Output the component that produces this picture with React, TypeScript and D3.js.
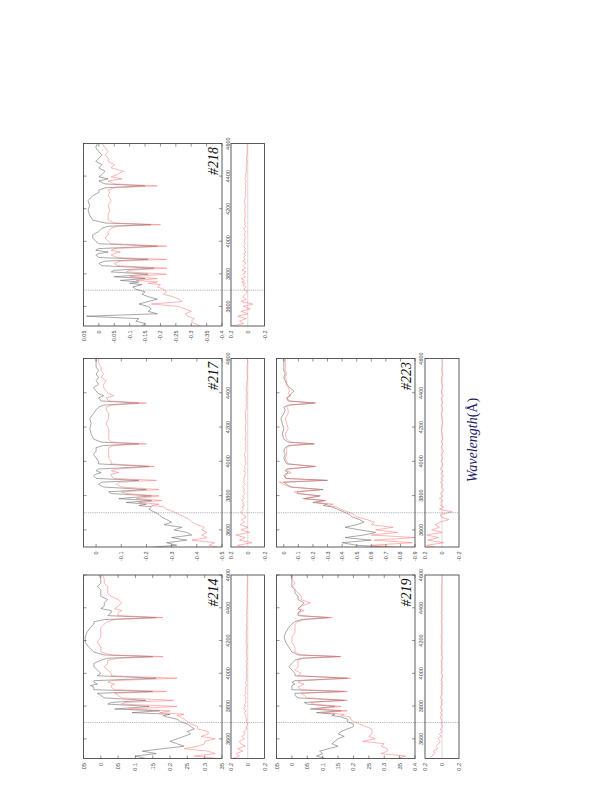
import React from 'react';
import * as d3 from 'd3';

// wavelength grid (Angstrom) shared by every spectrum
const WAVE = [
  3480, 3495, 3510, 3525, 3540, 3555, 3570, 3585, 3600, 3615,
  3630, 3645, 3660, 3675, 3690, 3705, 3720, 3734, 3742, 3750,
  3760, 3771, 3782, 3798, 3812, 3822, 3835, 3850, 3865, 3878,
  3889, 3900, 3915, 3925, 3934, 3945, 3955, 3970, 3985, 4000,
  4020, 4040, 4060, 4080, 4092, 4102, 4112, 4130, 4160, 4190,
  4220, 4250, 4280, 4300, 4315, 4328, 4340, 4352, 4370, 4383,
  4395, 4410, 4430, 4450, 4470, 4490, 4510, 4530, 4550, 4575, 4600,
];

const WAVE_TICKS = [3600, 3800, 4000, 4200, 4400, 4600];
const BALMER_EDGE = 3700;

// #218
const OBS_218 = [
  -0.14, -0.15, -0.12, -0.13, 0.04, -0.19, -0.16, -0.17, -0.16, -0.13,
  -0.16, -0.19, -0.16, -0.14, -0.15, -0.12, -0.11, -0.14, -0.10, -0.13,
  -0.07, -0.15, -0.05, -0.16, -0.04, -0.05, -0.18, -0.01, 0.0, -0.02,
  -0.16, 0.0, 0.01, 0.0, -0.03, 0.01, 0.0, -0.19, 0.0, 0.01,
  0.02, 0.02, 0.0, -0.01, -0.03, -0.17, -0.02, 0.02, 0.03, 0.035,
  0.03, 0.035, 0.02, 0.0, 0.0, -0.02, -0.15, -0.02, 0.0, -0.03,
  0.0, -0.01, -0.02, 0.0, -0.01, 0.01, 0.0, -0.01, 0.0, 0.01, 0.005,
];
const MODEL_218 = [
  -0.33, -0.31, -0.30, -0.31, -0.29, -0.28, -0.30, -0.28, -0.26, -0.17,
  -0.27, -0.26, -0.24, -0.21, -0.22, -0.21, -0.19, -0.20, -0.16, -0.19,
  -0.12, -0.19, -0.10, -0.22, -0.09, -0.10, -0.22, -0.06, -0.05, -0.07,
  -0.22, -0.06, -0.04, -0.05, -0.07, -0.04, -0.05, -0.22, -0.04, -0.03,
  -0.02, -0.03, -0.03, -0.04, -0.06, -0.20, -0.05, -0.03, -0.03, -0.035,
  -0.03, -0.04, -0.03, -0.035, -0.03, -0.05, -0.19, -0.05, -0.03, -0.075,
  -0.04, -0.06, -0.08, -0.04, -0.05, -0.03, -0.03, -0.02, -0.03, -0.02, -0.01,
];
const RESID_218 = [
  0.18, 0.05, 0.10, 0.02, 0.12, 0.0, 0.08, -0.03, 0.05, -0.06,
  0.08, 0.02, 0.06, 0.03, 0.0, 0.05, 0.02, 0.06, 0.03, 0.07,
  0.04, 0.08, 0.03, 0.06, 0.02, 0.07, 0.03, 0.05, 0.02, 0.06,
  0.03, 0.05, 0.03, 0.05, 0.02, 0.04, 0.03, 0.05, 0.03, 0.04,
  0.03, 0.04, 0.03, 0.05, 0.02, 0.04, 0.03, 0.04, 0.03, 0.035,
  0.03, 0.04, 0.02, 0.03, 0.02, 0.03, 0.02, 0.03, 0.02, 0.035,
  0.02, 0.025, 0.015, 0.02, 0.015, 0.01, 0.015, 0.01, 0.005, 0.01, 0.005,
];

// #217
const OBS_217 = [
  -0.20, -0.19, -0.32, -0.28, -0.36, -0.30, -0.38, -0.36, -0.31, -0.34,
  -0.27, -0.30, -0.28, -0.26, -0.25, -0.23, -0.21, -0.22, -0.17, -0.20,
  -0.12, -0.22, -0.09, -0.22, -0.06, -0.05, -0.20, -0.03, -0.01, -0.02,
  -0.17, 0.0, 0.01, 0.0, -0.02, 0.0, -0.01, -0.21, -0.01, -0.01,
  0.0, 0.01, 0.0, 0.0, -0.03, -0.17, -0.02, 0.01, 0.02, 0.025,
  0.02, 0.025, 0.01, 0.0, -0.01, -0.03, -0.17, -0.02, -0.01, -0.03,
  -0.01, 0.0, 0.01, -0.01, 0.0, -0.01, 0.0, -0.01, 0.0, 0.0, 0.0,
];
const MODEL_217 = [
  -0.50, -0.49, -0.45, -0.47, -0.38, -0.44, -0.42, -0.44, -0.42, -0.43,
  -0.40, -0.38, -0.37, -0.35, -0.33, -0.31, -0.28, -0.27, -0.22, -0.25,
  -0.17, -0.26, -0.16, -0.25, -0.12, -0.10, -0.25, -0.10, -0.08, -0.09,
  -0.24, -0.07, -0.06, -0.06, -0.09, -0.06, -0.08, -0.23, -0.06, -0.06,
  -0.05, -0.05, -0.05, -0.05, -0.07, -0.20, -0.06, -0.05, -0.05, -0.05,
  -0.04, -0.05, -0.05, -0.04, -0.04, -0.06, -0.20, -0.05, -0.04, -0.07,
  -0.05, -0.04, -0.03, -0.03, -0.04, -0.02, -0.03, -0.02, -0.02, -0.01, -0.01,
];
const RESID_217 = [
  0.15, 0.02, 0.12, -0.05, 0.10, 0.03, 0.14, -0.02, 0.08, 0.0,
  0.09, 0.04, 0.07, 0.02, 0.06, 0.08, 0.05, 0.07, 0.04, 0.06,
  0.05, 0.07, 0.04, 0.06, 0.03, 0.05, 0.04, 0.06, 0.03, 0.05,
  0.04, 0.05, 0.03, 0.04, 0.02, 0.05, 0.03, 0.04, 0.02, 0.03,
  0.03, 0.04, 0.02, 0.03, 0.02, 0.03, 0.02, 0.03, 0.02, 0.03,
  0.02, 0.025, 0.03, 0.02, 0.015, 0.02, 0.01, 0.02, 0.015, 0.02,
  0.01, 0.015, 0.02, 0.01, 0.01, 0.0, 0.01, 0.005, 0.01, 0.0, 0.005,
];

// #223
const OBS_223 = [
  -0.75, -0.80, -0.50, -0.40, -0.60, -0.42, -0.55, -0.63, -0.52, -0.42,
  -0.50, -0.55, -0.52, -0.47, -0.45, -0.41, -0.37, -0.33, -0.27, -0.30,
  -0.20, -0.28, -0.14, -0.25, -0.10, -0.09, -0.27, -0.05, -0.02, 0.0,
  -0.30, -0.02, 0.0, -0.01, -0.03, -0.01, -0.02, -0.21, -0.02, -0.01,
  0.0, -0.01, 0.0, -0.01, -0.03, -0.21, -0.03, 0.0, 0.01, 0.0,
  0.01, 0.02, 0.0, -0.01, 0.0, -0.03, -0.21, -0.03, -0.02, -0.04,
  -0.05, -0.07, -0.04, -0.02, -0.01, 0.0, -0.01, 0.0, 0.0, 0.0, 0.0,
];
const MODEL_223 = [
  -0.90, -0.88, -0.60, -0.88, -0.62, -0.90, -0.60, -0.78, -0.63, -0.75,
  -0.60, -0.62, -0.57, -0.50, -0.48, -0.44, -0.39, -0.36, -0.30, -0.34,
  -0.22, -0.29, -0.13, -0.24, -0.09, -0.07, -0.25, -0.04, 0.0, 0.03,
  -0.28, -0.01, -0.01, -0.02, -0.05, -0.02, -0.03, -0.22, -0.03, -0.02,
  -0.01, -0.02, -0.02, -0.02, -0.05, -0.20, -0.04, -0.02, -0.01, -0.03,
  -0.02, -0.01, -0.03, -0.03, -0.02, -0.04, -0.22, -0.04, -0.02, -0.05,
  -0.03, -0.04, -0.03, -0.02, -0.02, -0.01, -0.02, -0.01, -0.01, -0.01, -0.01,
];
const RESID_223 = [
  0.15, 0.05, 0.18, -0.02, 0.17, 0.04, 0.18, 0.0, 0.12, 0.03,
  0.08, 0.02, -0.08, 0.01, 0.02, -0.12, 0.03, -0.02, 0.02, 0.0,
  0.02, -0.01, 0.03, -0.01, 0.02, 0.0, -0.02, 0.01, -0.01, 0.02,
  -0.01, 0.01, -0.02, 0.01, 0.0, -0.01, 0.02, 0.0, -0.01, 0.01,
  -0.01, 0.01, -0.02, 0.01, 0.0, -0.01, 0.01, -0.01, 0.0, 0.01,
  -0.01, 0.0, 0.01, -0.01, 0.0, 0.01, -0.01, 0.0, 0.01, -0.02,
  0.0, 0.01, -0.01, 0.0, 0.01, 0.0, -0.01, 0.0, 0.0, -0.01, 0.0,
];

// #214
const OBS_214 = [
  -0.13, -0.10, -0.16, -0.12, -0.18, -0.24, -0.22, -0.20, -0.22, -0.24,
  -0.26, -0.25, -0.27, -0.26, -0.25, -0.23, -0.22, -0.19, -0.18, -0.20,
  -0.09, -0.17, -0.04, -0.14, -0.02, -0.03, -0.13, -0.01, 0.0, 0.01,
  -0.15, 0.02, 0.02, 0.03, 0.01, 0.02, 0.02, -0.16, 0.01, 0.0,
  0.01, 0.02, 0.02, 0.0, -0.02, -0.15, -0.01, 0.02, 0.035, 0.045,
  0.045, 0.04, 0.03, 0.02, 0.02, -0.01, -0.16, -0.02, -0.03, -0.03,
  0.0, -0.01, -0.01, -0.02, 0.0, 0.0, 0.0, 0.01, 0.0, 0.0, 0.005,
];
const MODEL_214 = [
  -0.34, -0.27, -0.33, -0.31, -0.24, -0.28, -0.30, -0.30, -0.33, -0.29,
  -0.31, -0.31, -0.28, -0.28, -0.26, -0.25, -0.24, -0.23, -0.22, -0.24,
  -0.17, -0.20, -0.08, -0.22, -0.06, -0.07, -0.21, -0.06, -0.05, -0.04,
  -0.19, -0.04, -0.03, -0.03, -0.04, -0.02, -0.03, -0.22, -0.03, -0.03,
  -0.02, -0.01, -0.02, -0.02, -0.05, -0.18, -0.03, 0.0, 0.0, 0.01,
  0.0, 0.0, 0.0, -0.01, -0.02, -0.04, -0.18, -0.05, -0.05, -0.06,
  -0.04, -0.05, -0.06, -0.05, -0.03, -0.02, -0.02, -0.02, -0.01, -0.01, -0.005,
];
const RESID_214 = [
  0.18, 0.10, 0.14, 0.06, 0.12, 0.03, 0.08, 0.10, 0.04, 0.07,
  0.03, 0.05, 0.01, 0.02, 0.0, 0.02, 0.01, 0.03, 0.02, 0.03,
  0.04, 0.02, 0.05, 0.03, 0.04, 0.02, 0.03, 0.02, 0.04, 0.02,
  0.03, 0.02, 0.03, 0.01, 0.02, 0.03, 0.01, 0.02, 0.01, 0.02,
  0.01, 0.02, 0.01, 0.02, 0.0, 0.02, 0.01, 0.02, 0.01, 0.02,
  0.015, 0.02, 0.01, 0.02, 0.01, 0.015, 0.01, 0.02, 0.01, 0.015,
  0.01, 0.01, 0.005, 0.01, 0.005, 0.01, 0.005, 0.01, 0.005, 0.005, 0.0,
];

// #219
const OBS_219 = [
  -0.11, -0.08, -0.10, -0.09, -0.12, -0.15, -0.13, -0.14, -0.15, -0.17,
  -0.15, -0.16, -0.18, -0.20, -0.20, -0.18, -0.18, -0.16, -0.13, -0.14,
  -0.08, -0.16, -0.06, -0.14, -0.05, -0.04, -0.17, -0.02, -0.01, -0.01,
  -0.17, 0.0, 0.0, 0.0, -0.01, 0.0, -0.01, -0.18, -0.01, -0.01,
  0.0, 0.01, 0.0, -0.01, -0.03, -0.155, -0.02, 0.0, 0.01, 0.02,
  0.025, 0.02, 0.01, 0.0, -0.01, -0.03, -0.12, -0.02, -0.02, -0.03,
  -0.02, -0.03, -0.04, -0.02, -0.02, -0.01, -0.01, 0.0, 0.0, 0.0, 0.003,
];
const MODEL_219 = [
  -0.34, -0.37, -0.29, -0.31, -0.31, -0.29, -0.30, -0.23, -0.27, -0.25,
  -0.26, -0.26, -0.26, -0.24, -0.22, -0.20, -0.19, -0.19, -0.16, -0.17,
  -0.10, -0.18, -0.08, -0.16, -0.07, -0.06, -0.18, -0.05, -0.04, -0.03,
  -0.18, -0.03, -0.02, -0.03, -0.04, -0.02, -0.03, -0.19, -0.02, -0.03,
  -0.01, -0.02, -0.02, -0.02, -0.04, -0.16, -0.03, -0.01, -0.01, 0.0,
  0.0, -0.01, -0.01, -0.01, -0.02, -0.04, -0.13, -0.03, -0.02, -0.04,
  -0.02, -0.03, -0.06, -0.03, -0.03, -0.02, -0.01, 0.0, -0.01, 0.0, 0.0,
];
const RESID_219 = [
  0.15, 0.12, 0.08, 0.10, 0.05, 0.07, 0.04, 0.02, 0.05, 0.01,
  0.03, 0.0, 0.02, -0.01, 0.01, 0.0, 0.01, 0.02, 0.0, 0.01,
  0.02, 0.0, 0.01, 0.02, 0.0, 0.01, 0.0, 0.02, 0.01, 0.0,
  0.01, 0.0, 0.01, -0.01, 0.01, 0.0, 0.01, 0.0, -0.01, 0.01,
  0.0, 0.01, 0.0, 0.01, -0.01, 0.0, 0.01, 0.0, 0.01, 0.0,
  0.01, 0.0, 0.005, 0.0, 0.01, 0.0, 0.005, 0.0, 0.01, 0.0,
  0.005, 0.0, 0.005, 0.0, 0.005, 0.0, 0.0, 0.005, 0.0, 0.0, 0.0,
];

// flux tick values and the labels printed next to them
const TICKS_005_040 = [0.05, 0, -0.05, -0.1, -0.15, -0.2, -0.25, -0.3, -0.35, -0.4];
const LABELS_218 = ['0.05', '0', '-0.05', '-0.1', '-0.15', '-0.2', '-0.25', '-0.3', '-0.35', '-0.4'];
const TICKS_217 = [0, -0.1, -0.2, -0.3, -0.4, -0.5];
const LABELS_217 = ['0', '-0.1', '-0.2', '-0.3', '-0.4', '-0.5'];
const TICKS_223 = [0, -0.1, -0.2, -0.3, -0.4, -0.5, -0.6, -0.7, -0.8, -0.9];
const LABELS_223 = ['0', '-0.1', '-0.2', '-0.3', '-0.4', '-0.5', '-0.6', '-0.7', '-0.8', '-0.9'];
const TICKS_214 = [0.05, 0, -0.05, -0.1, -0.15, -0.2, -0.25, -0.3, -0.35];
const LABELS_214 = ['.05', '0', '.05', '0.1', '.15', '0.2', '.25', '0.3', '.35'];
const LABELS_219 = ['.05', '0', '.05', '0.1', '.15', '0.2', '.25', '0.3', '.35', '0.4'];
const RESID_TICKS = [0.2, 0, -0.2];
const RESID_LABELS = ['0.2', '0', '-0.2'];
const RESID_LABELS_CUT = ['0.2', '0', '0.2'];

const COLS = [
  { main: [83.5, 222], res: [231, 264.5] },
  { main: [276.5, 415], res: [425, 459] },
];
const ROWS = [
  { top: 143.5, bottom: 326, wave: [3480, 4600] },
  { top: 358.5, bottom: 547, wave: [3500, 4600] },
  { top: 575, bottom: 758.5, wave: [3480, 4600] },
];

const PANELS = [
  { name: '#218', col: 0, row: 0, flux: [0.05, -0.4], ticks: TICKS_005_040, labels: LABELS_218, obs: OBS_218, model: MODEL_218, resid: RESID_218, residLabels: RESID_LABELS },
  { name: '#217', col: 0, row: 1, flux: [0.05, -0.5], ticks: TICKS_217, labels: LABELS_217, obs: OBS_217, model: MODEL_217, resid: RESID_217, residLabels: RESID_LABELS },
  { name: '#223', col: 1, row: 1, flux: [0.05, -0.9], ticks: TICKS_223, labels: LABELS_223, obs: OBS_223, model: MODEL_223, resid: RESID_223, residLabels: RESID_LABELS },
  { name: '#214', col: 0, row: 2, flux: [0.05, -0.35], ticks: TICKS_214, labels: LABELS_214, obs: OBS_214, model: MODEL_214, resid: RESID_214, residLabels: RESID_LABELS_CUT },
  { name: '#219', col: 1, row: 2, flux: [0.05, -0.4], ticks: TICKS_005_040, labels: LABELS_219, obs: OBS_219, model: MODEL_219, resid: RESID_219, residLabels: RESID_LABELS_CUT },
];

const FRAME = '#4a4a4a';
const TICK_FONT = "'Liberation Sans', Arial, sans-serif";
const OBS_COLOR = '#6e6e6e';
const MODEL_COLOR = '#ff6f6f';

function Panel({ p }: { p: (typeof PANELS)[number] }) {
  const c = COLS[p.col];
  const r = ROWS[p.row];
  const y = d3.scaleLinear().domain(r.wave).range([r.bottom, r.top]);
  const x = d3.scaleLinear().domain(p.flux).range(c.main);
  const xr = d3.scaleLinear().domain([0.2, -0.2]).range(c.res);

  const mainLine = d3.line<number>().x(d => x(d)).y((d, i) => y(WAVE[i]));
  const resLine = d3.line<number>().x(d => xr(d)).y((d, i) => y(WAVE[i]));

  const id = p.name.slice(1);
  const h = r.bottom - r.top;
  const tl = 3;

  return (
    <g>
      <defs>
        <clipPath id={`m${id}`}>
          <rect x={c.main[0]} y={r.top} width={c.main[1] - c.main[0]} height={h} />
        </clipPath>
        <clipPath id={`r${id}`}>
          <rect x={c.res[0]} y={r.top} width={c.res[1] - c.res[0]} height={h} />
        </clipPath>
      </defs>

      {/* spectra */}
      <g clipPath={`url(#m${id})`}>
        <path d={mainLine(p.obs) || ''} fill="none" stroke={OBS_COLOR} strokeWidth={0.6} />
        <path d={mainLine(p.model) || ''} fill="none" stroke={MODEL_COLOR} strokeWidth={0.6} strokeOpacity={0.85} />
      </g>

      {/* residuals */}
      <line x1={xr(0)} x2={xr(0)} y1={r.top} y2={r.bottom} stroke="#c8c8c8" strokeWidth={0.7} />
      <g clipPath={`url(#r${id})`}>
        <path d={resLine(p.resid) || ''} fill="none" stroke={MODEL_COLOR} strokeWidth={0.6} strokeOpacity={0.85} />
      </g>

      {/* dashed marker */}
      <line x1={c.main[0]} x2={c.res[1]} y1={y(BALMER_EDGE)} y2={y(BALMER_EDGE)}
        stroke="#666" strokeWidth={0.5} strokeDasharray="1.2,1" />

      {/* frames */}
      <rect x={c.main[0]} y={r.top} width={c.main[1] - c.main[0]} height={h} fill="none" stroke={FRAME} strokeWidth={0.9} />
      <rect x={c.res[0]} y={r.top} width={c.res[1] - c.res[0]} height={h} fill="none" stroke={FRAME} strokeWidth={0.9} />

      {/* inward ticks */}
      {WAVE_TICKS.map(w => (
        <g key={`w${w}`} stroke={FRAME} strokeWidth={0.6}>
          <line x1={c.main[0]} x2={c.main[0] + tl} y1={y(w)} y2={y(w)} />
          <line x1={c.main[1]} x2={c.main[1] - tl} y1={y(w)} y2={y(w)} />
        </g>
      ))}
      {p.ticks.map(t => (
        <g key={`f${t}`} stroke={FRAME} strokeWidth={0.6}>
          <line x1={x(t)} x2={x(t)} y1={r.top} y2={r.top + tl} />
          <line x1={x(t)} x2={x(t)} y1={r.bottom} y2={r.bottom - tl} />
        </g>
      ))}

      {/* tick labels */}
      {WAVE_TICKS.map(w => (
        <text key={`wl${w}`} transform={`translate(${c.main[1] + 8},${y(w)}) rotate(-90)`}
          textAnchor="middle" fontSize={5.5} fontFamily={TICK_FONT} fill="#444">{w}</text>
      ))}
      {p.ticks.map((t, i) => (
        <text key={`fl${t}`} transform={`translate(${x(t) + 2},${r.bottom + 4.5}) rotate(-90)`}
          textAnchor="end" fontSize={5.5} fontFamily={TICK_FONT} fill="#444">{p.labels[i]}</text>
      ))}
      {RESID_TICKS.map((t, i) => (
        <text key={`rl${t}`} transform={`translate(${xr(t) + 2},${r.bottom + 4.5}) rotate(-90)`}
          textAnchor="end" fontSize={5.5} fontFamily={TICK_FONT} fill="#444">{p.residLabels[i]}</text>
      ))}

      {/* panel name */}
      <text transform={`translate(${c.main[1] - 4.5},${r.top + 3.5}) rotate(-90)`} textAnchor="end"
        fontSize={14} fontStyle="italic" fontFamily="'Liberation Serif', 'Times New Roman', serif" fill="#111">
        {p.name}
      </text>
    </g>
  );
}

export default function App() {
  return (
    <svg width={598} height={798} viewBox="0 0 598 798"
      style={{ position: 'absolute', left: 0, top: 0, background: '#fff' }}>
      <rect width={598} height={798} fill="#fff" />
      {PANELS.map(p => <Panel key={p.name} p={p} />)}
      <text transform="translate(477,440) rotate(-90)" textAnchor="middle" fontSize={14}
        fontFamily="'Liberation Serif', 'Times New Roman', serif" fill="#1c1c66">
        <tspan fontStyle="italic">Wavelength</tspan>
        <tspan>(Å)</tspan>
      </text>
    </svg>
  );
}
